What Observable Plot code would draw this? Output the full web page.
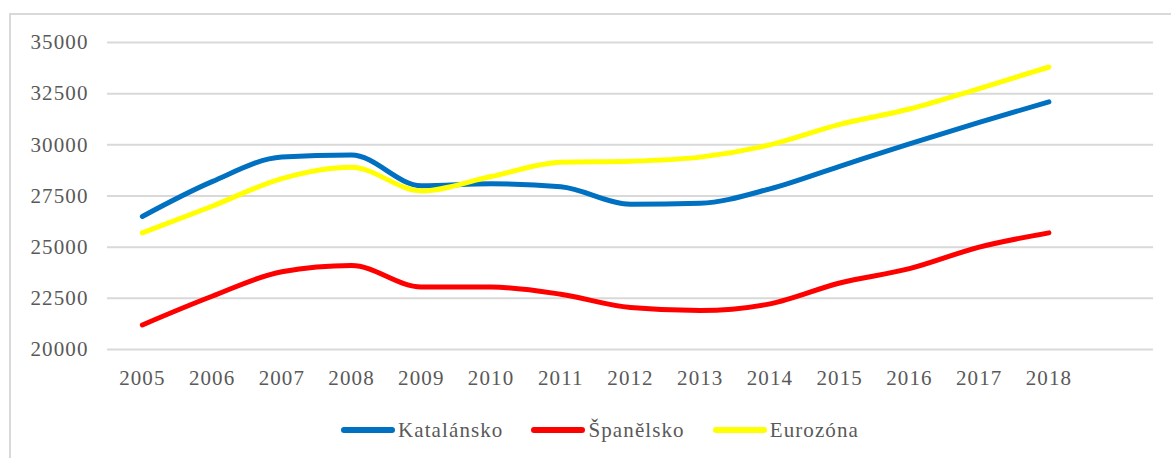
<!DOCTYPE html>
<html><head><meta charset="utf-8">
<script src="https://cdn.jsdelivr.net/npm/d3@7"></script>
<script src="https://cdn.jsdelivr.net/npm/@observablehq/plot@0.6"></script>
<style>
body{margin:0;background:#fff;}
#wrap{position:relative;width:1171px;height:458px;overflow:hidden;font-family:'Liberation Serif';color:#595959;}
#frame{position:absolute;left:9px;top:13px;width:1300px;height:600px;border-left:2px solid #d9d9d9;border-top:2px solid #d9d9d9;}
#chart{position:absolute;left:0;top:0;}
#chart svg, #chart svg text{font-family:'Liberation Serif' !important;}
#legend{position:absolute;top:416px;left:0;width:1200px;height:28px;display:flex;justify-content:center;align-items:center;font-size:21px;letter-spacing:1.1px;}
.item{display:flex;align-items:center;margin:0 14px;}
.sw{width:54px;height:6px;border-radius:3px;margin-right:3px;}
</style></head>
<body>
<div id="wrap"><div id="frame"></div><div id="chart"></div><div id="legend"></div></div>
<script>
const years = [2005,2006,2007,2008,2009,2010,2011,2012,2013,2014,2015,2016,2017,2018];
const seriesNames = ["Katalánsko","Španělsko","Eurozóna"];
const seriesColors = ["#0070C0","#FF0000","#FFFF00"];
const katalansko = [26500,28200,29400,29500,28000,28100,27950,27100,27150,27850,28950,30050,31100,32100];
const spanelsko  = [21200,22600,23800,24100,23050,23050,22700,22050,21900,22230,23250,23950,25000,25700];
const eurozona   = [25700,27000,28350,28900,27750,28450,29150,29200,29400,30000,31000,31750,32750,33800];
const yTicks = [20000,22500,25000,27500,30000,32500,35000];

const values = [katalansko, spanelsko, eurozona];
const data = [];
seriesNames.forEach((s,i)=>years.forEach((y,j)=>data.push({series:s, year:y, value:values[i][j]})));

const chart = Plot.plot({
  width:1171, height:400,
  marginLeft:107, marginRight:18, marginTop:42, marginBottom:51,
  style:{fontFamily:"Liberation Serif", fontSize:"21px", color:"#595959", background:"transparent", letterSpacing:"1.1px"},
  x:{type:"linear", domain:[2004.5,2019.5], label:null},
  y:{domain:[20000,35000], label:null},
  color:{domain:seriesNames, range:seriesColors},
  marks:[
    Plot.gridY(yTicks,{stroke:"#d9d9d9", strokeOpacity:1, strokeWidth:2}),
    Plot.axisX({ticks:years, tickFormat:d=>String(d), tickSize:0, tickPadding:21, fill:"#595959"}),
    Plot.axisY({ticks:yTicks, tickFormat:d=>String(d), tickSize:0, tickPadding:19, fill:"#595959"}),
    Plot.line(data,{x:"year", y:"value", z:"series", stroke:"series", strokeWidth:5, curve:"monotone-x", strokeLinecap:"round", strokeLinejoin:"round"})
  ]
});
document.getElementById("chart").appendChild(chart);

const leg = document.getElementById("legend");
seriesNames.forEach((s,i)=>{
  const it = document.createElement("div"); it.className="item";
  const sw = document.createElement("div"); sw.className="sw"; sw.style.background=seriesColors[i];
  const lb = document.createElement("span"); lb.textContent=s;
  it.appendChild(sw); it.appendChild(lb); leg.appendChild(it);
});
</script>
</body></html>
